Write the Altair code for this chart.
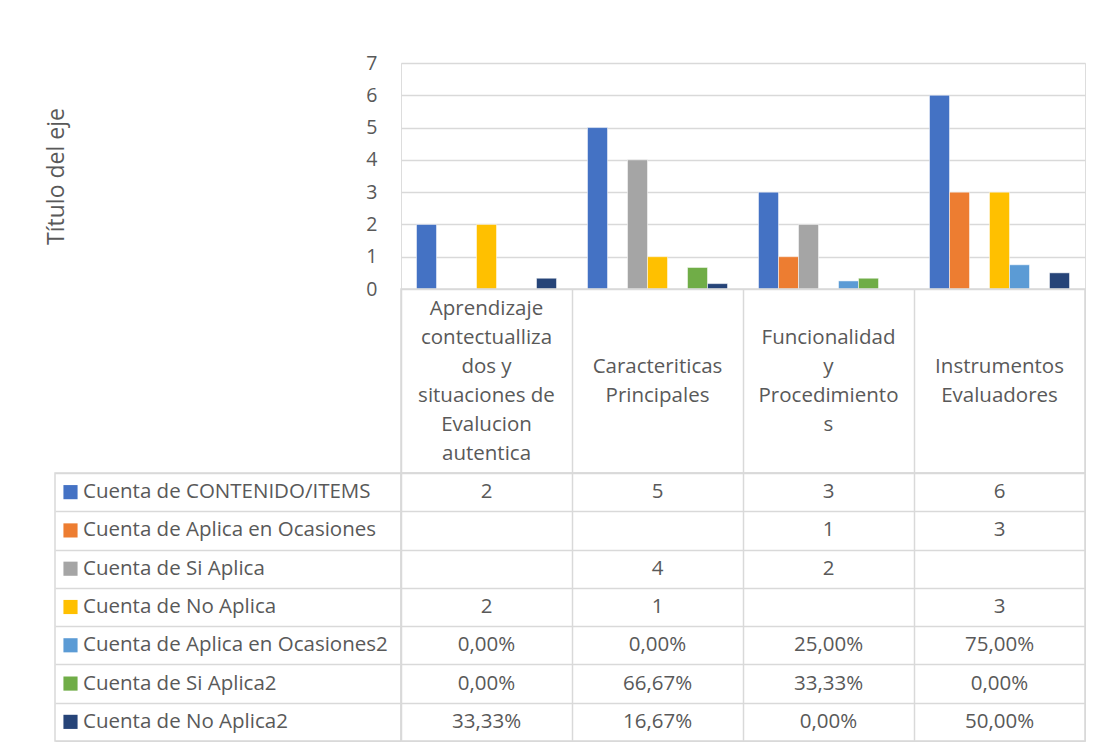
import altair as alt
import pandas as pd

categories = [
    "Aprendizaje contectuallizados y situaciones de Evalucion autentica",
    "Caracteriticas Principales",
    "Funcionalidad y Procedimientos",
    "Instrumentos Evaluadores",
]
header_lines = [
    ["Aprendizaje", "contectualliza", "dos y", "situaciones de", "Evalucion", "autentica"],
    ["Caracteriticas", "Principales"],
    ["Funcionalidad", "y", "Procedimiento", "s"],
    ["Instrumentos", "Evaluadores"],
]

series = [
    "Cuenta de CONTENIDO/ITEMS",
    "Cuenta de Aplica en Ocasiones",
    "Cuenta de Si Aplica",
    "Cuenta de No Aplica",
    "Cuenta de Aplica en Ocasiones2",
    "Cuenta de Si Aplica2",
    "Cuenta de No Aplica2",
]
is_percent = [False, False, False, False, True, True, True]
colors = ["#4472C4", "#ED7D31", "#A5A5A5", "#FFC000", "#5B9BD5", "#70AD47", "#264478"]

contenido = [2, 5, 3, 6]
aplica_ocasiones = [None, None, 1, 3]
si_aplica = [None, 4, 2, None]
no_aplica = [2, 1, None, 3]
aplica_ocasiones2 = [0.0, 0.0, 0.25, 0.75]
si_aplica2 = [0.0, 0.6667, 0.3333, 0.0]
no_aplica2 = [0.3333, 0.1667, 0.0, 0.5]
all_values = [contenido, aplica_ocasiones, si_aplica, no_aplica,
              aplica_ocasiones2, si_aplica2, no_aplica2]

y_ticks = [0, 1, 2, 3, 4, 5, 6, 7]

TXT = "#595959"
GRID = "#d9d9d9"
FONT = "Open Sans"
FS = 20.5
LINE_H = 29

rows = []
for s, vals, pct in zip(series, all_values, is_percent):
    for c, v in zip(categories, vals):
        if v is None:
            lab = ""
        elif pct:
            lab = f"{v * 100:.2f}".replace(".", ",") + "%"
        else:
            lab = str(int(v))
        rows.append({"series": s, "cat": c, "value": v, "label": lab})
df = pd.DataFrame(rows)
df_bars = df[df["value"].notna() & (df["value"] > 0)].copy()

head_rows = []
for c, lines in zip(categories, header_lines):
    n = len(lines)
    for i, ln in enumerate(lines):
        head_rows.append({"cat": c, "line": ln, "pos": i - (n - 1) / 2})
df_head = pd.DataFrame(head_rows)
df_series = pd.DataFrame({"series": series})

cat_scale = alt.Scale(domain=categories, paddingInner=0, paddingOuter=0)
ser_band = alt.Scale(domain=series, paddingInner=0, paddingOuter=0)
color_scale = alt.Scale(domain=series, range=colors)

W_LEFT = 346
W_PLOT = 684
H_BARS = 226
H_HEAD = 184
H_BODY = 268
half_lines = H_HEAD / 2 / LINE_H

bars = alt.Chart(df_bars).mark_bar(stroke="white", strokeWidth=0.5).encode(
    x=alt.X("cat:N", sort=categories, scale=cat_scale, axis=None),
    xOffset=alt.XOffset("series:N", sort=series,
                        scale=alt.Scale(domain=series, paddingInner=0, paddingOuter=0.775)),
    y=alt.Y("value:Q", scale=alt.Scale(domain=[0, 7], nice=False),
            axis=alt.Axis(values=y_ticks, title="Título del eje", grid=True,
                          gridColor=GRID, gridWidth=1.5, domain=False, ticks=False,
                          labelPadding=24, labelFontSize=19.5, labelColor=TXT,
                          labelFont=FONT, titleFont=FONT, titleFontSize=23,
                          titleColor=TXT, titleFontWeight="normal",
                          titleAngle=270, titleX=-345, titleY=H_BARS / 2,
                          titleAlign="center", titleBaseline="middle")),
    color=alt.Color("series:N", scale=color_scale, legend=None),
).properties(width=W_PLOT, height=H_BARS)

header = alt.Chart(df_head).mark_text(
    font=FONT, fontSize=FS, color=TXT, align="center", baseline="middle"
).encode(
    x=alt.X("cat:N", sort=categories, scale=cat_scale,
            axis=alt.Axis(labels=False, ticks=False, domain=False, title=None,
                          grid=True, gridColor=GRID, gridWidth=1.5, tickBand="extent")),
    y=alt.Y("pos:Q", scale=alt.Scale(domain=[half_lines, -half_lines], nice=False, zero=False),
            axis=None),
    text="line:N",
).properties(width=W_PLOT, height=H_HEAD,
             view=alt.ViewBackground(stroke=GRID, strokeWidth=1.5))

body = alt.Chart(df).mark_text(
    font=FONT, fontSize=FS, color=TXT, align="center", baseline="middle"
).encode(
    x=alt.X("cat:N", sort=categories, scale=cat_scale,
            axis=alt.Axis(labels=False, ticks=False, domain=False, title=None,
                          grid=True, gridColor=GRID, gridWidth=1.5, tickBand="extent")),
    y=alt.Y("series:N", sort=series, scale=ser_band,
            axis=alt.Axis(labels=False, ticks=False, domain=False, title=None,
                          grid=True, gridColor=GRID, gridWidth=1.5, tickBand="extent")),
    text="label:N",
).properties(width=W_PLOT, height=H_BODY,
             view=alt.ViewBackground(stroke=GRID, strokeWidth=1.5))

label_base = alt.Chart(df_series).encode(
    y=alt.Y("series:N", sort=series, scale=ser_band,
            axis=alt.Axis(labels=False, ticks=False, domain=False, title=None,
                          grid=True, gridColor=GRID, gridWidth=1.5, tickBand="extent")),
)
swatches = label_base.mark_square(size=200, opacity=1, filled=True).encode(
    x=alt.value(15.5),
    color=alt.Color("series:N", scale=color_scale, legend=None),
)
names = label_base.mark_text(
    font=FONT, fontSize=FS, color=TXT, align="left", baseline="middle"
).encode(x=alt.value(28), text="series:N")
labels_col = alt.layer(swatches, names).properties(
    width=W_LEFT, height=H_BODY,
    view=alt.ViewBackground(stroke=GRID, strokeWidth=1.5))

spacer_df = pd.DataFrame({"a": [0]})
spacer1 = alt.Chart(spacer_df).mark_point(opacity=0).properties(width=W_LEFT, height=H_BARS)
spacer2 = alt.Chart(spacer_df).mark_point(opacity=0).properties(width=W_LEFT, height=H_HEAD)

chart = alt.concat(
    spacer1, bars, spacer2, header, labels_col, body,
    columns=2, spacing=0, bounds="flush",
).properties(
    padding={"left": 36, "top": 44, "right": 0, "bottom": 0}
).configure_view(stroke=None).configure(font=FONT)

chart.save("out.html", embed_options={"renderer": "svg", "actions": False})
